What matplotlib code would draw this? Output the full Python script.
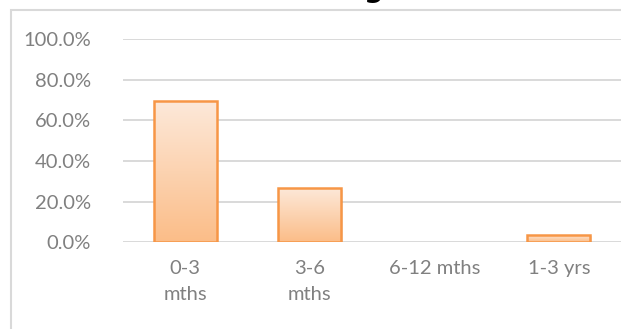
import numpy as np
import matplotlib
matplotlib.use('Agg')
import matplotlib.pyplot as plt
from matplotlib.patches import Rectangle
from matplotlib.colors import LinearSegmentedColormap

categories = ['0-3\nmths', '3-6\nmths', '6-12 mths', '1-3 yrs']
values = [69.6, 26.7, 0.0, 3.7]
yticks = [0, 20, 40, 60, 80, 100]

W, H = 621, 329
fig = plt.figure(figsize=(W / 100, H / 100), dpi=100)
fig.patch.set_facecolor('white')

# outer chart frame (runs off the right and bottom edges)
frame = Rectangle((11 / W, -0.05), 1.2, (H - 9.5) / H + 0.05, transform=fig.transFigure,
                  fill=False, edgecolor='#d9d9d9', linewidth=1.5, zorder=0)
fig.patches.append(frame)

# title sits above the image, only the descender of the last letter shows
fig.text(374 / W, 1.0 + 3 / H, 'g', fontsize=20, fontweight='bold', ha='center', va='baseline',
         color='black', family='DejaVu Sans')

ax = fig.add_axes([123 / W, (H - 242.3) / H, (621 - 123) / W, 203.3 / H])

for s in ax.spines.values():
    s.set_visible(False)
ax.set_yticks(yticks)
ax.set_yticklabels([f'{t:.1f}%' for t in yticks])
ax.grid(axis='y', color='#d9d9d9', linewidth=1.4, zorder=0)
ax.set_axisbelow(True)
ax.tick_params(length=0, labelsize=14.5, labelcolor='#808080')
ax.tick_params(axis='y', pad=23)
ax.tick_params(axis='x', pad=13)
ax.set_xticks(range(len(categories)))
ax.set_xticklabels(categories, linespacing=1.65)
for lab in ax.get_xticklabels() + ax.get_yticklabels():
    lab.set_family('Lato')

cmap = LinearSegmentedColormap.from_list('peach', ['#fbbd88', '#fde9da'])
grad = np.linspace(0, 1, 256).reshape(-1, 1)
bw = 0.51
for i, v in enumerate(values):
    if v <= 0:
        continue
    x0 = i - bw / 2
    # soft shadow
    ax.add_patch(Rectangle((x0 + 0.012, -0.8), bw, v, facecolor='#000000', alpha=0.08,
                           edgecolor='none', zorder=2))
    im = ax.imshow(grad, cmap=cmap, origin='lower', aspect='auto',
                   extent=(x0, x0 + bw, 0, v), zorder=3)
    rect = Rectangle((x0, 0), bw, v, facecolor='none', edgecolor='#f79646',
                     linewidth=1.8, zorder=4)
    ax.add_patch(rect)
    im.set_clip_path(rect)

ax.set_xlim(-0.5, len(categories) - 0.5)
ax.set_ylim(0, 100)

fig.savefig('out.png', dpi=100)
